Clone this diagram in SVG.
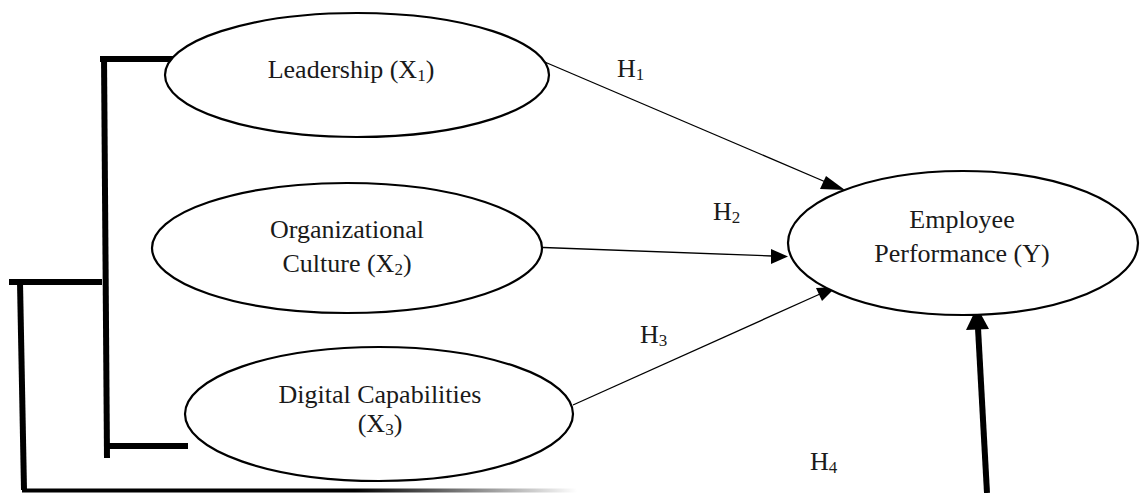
<svg xmlns="http://www.w3.org/2000/svg" width="1144" height="493" viewBox="0 0 1144 493">
<style>
.node ellipse{fill:#fff;stroke:#000;stroke-width:2.2}
text{font-family:"Liberation Serif","Times New Roman",serif;font-size:26px;fill:#1a1a1a;text-anchor:middle}
.lbl{text-anchor:start}
.thin{stroke:#000;stroke-width:1.3;fill:none}
.thick{stroke:#000;stroke-width:6;fill:none}
</style>
<defs>
<linearGradient id="fade" x1="0" y1="0" x2="1" y2="0">
<stop offset="0" stop-color="#000"/>
<stop offset="0.6" stop-color="#000"/>
<stop offset="1" stop-color="#000" stop-opacity="0"/>
</linearGradient>
</defs>
<g id="connectors">
<path class="thin" d="M533,57 L828,183"/>
<path d="M845,190 L826,176 L820,189 z" fill="#000"/>
<path class="thin" d="M530,247 L772,256"/>
<path d="M788,256.5 L771,249 L771,264 z" fill="#000"/>
<path class="thin" d="M573,405 L820,294"/>
<path d="M836,287 L816,288 L822,301 z" fill="#000"/>
<path class="thick" d="M987,493 L978,328"/>
<path d="M977,307 L966,330 L989,329 z" fill="#000"/>
<path class="thick" d="M100,59 L189,59"/>
<path class="thick" d="M104,56 L107,458"/>
<path class="thick" d="M107,446 L188,446"/>
<path class="thick" d="M9,282 L102,282"/>
<path class="thick" d="M20,282 L24,490"/>
<rect x="22" y="488.5" width="555" height="4" fill="url(#fade)"/>
</g>
<g id="leadership" class="node">
<ellipse cx="357" cy="75" rx="192" ry="62"/>
<text x="351" y="78">Leadership (X<tspan font-size="17" dy="3">1</tspan><tspan dy="-3">)</tspan></text>
</g>
<g id="culture" class="node">
<ellipse cx="347" cy="248" rx="195" ry="65"/>
<text x="347" y="238">Organizational</text>
<text x="347" y="272">Culture (X<tspan font-size="17" dy="3">2</tspan><tspan dy="-3">)</tspan></text>
</g>
<g id="digital" class="node">
<ellipse cx="379" cy="414" rx="194" ry="67"/>
<text x="380" y="403">Digital Capabilities</text>
<text x="380" y="432">(X<tspan font-size="17" dy="3">3</tspan><tspan dy="-3">)</tspan></text>
</g>
<g id="performance" class="node">
<ellipse cx="963" cy="243" rx="175" ry="72"/>
<text x="962" y="228">Employee</text>
<text x="962" y="262">Performance (Y)</text>
</g>
<g id="labels">
<text class="lbl" x="617" y="77">H<tspan font-size="17" dy="3">1</tspan></text>
<text class="lbl" x="713" y="220">H<tspan font-size="17" dy="3">2</tspan></text>
<text class="lbl" x="640" y="343">H<tspan font-size="17" dy="3">3</tspan></text>
<text class="lbl" x="810" y="470">H<tspan font-size="17" dy="3">4</tspan></text>
</g>
</svg>
